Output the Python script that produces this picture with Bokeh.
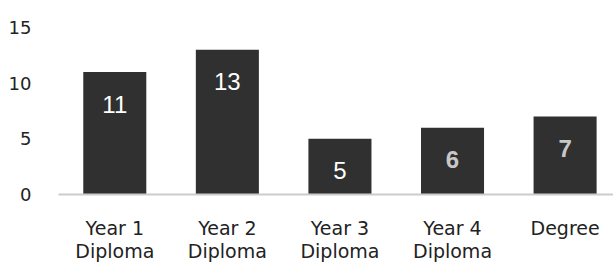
from bokeh.plotting import figure
from bokeh.models import Range1d, FixedTicker, LinearAxis, ColumnDataSource
from bokeh.embed import file_html
from bokeh.resources import INLINE
from bokeh.core.properties import value

categories_line1 = ["Year 1", "Year 2", "Year 3", "Year 4", "Degree"]
categories_line2 = ["Diploma", "Diploma", "Diploma", "Diploma", ""]
counts = [11, 13, 5, 6, 7]
y_ticks = [0, 5, 10, 15]

label_colors = ["#ffffff", "#ffffff", "#ffffff", "#c8c8c8", "#c8c8c8"]
label_styles = ["normal", "normal", "normal", "bold", "bold"]

xs = list(range(len(counts)))
src = ColumnDataSource(dict(x=xs, top=counts, lab=[str(c) for c in counts],
                            col=label_colors, sty=label_styles))

p = figure(width=613, height=264, output_backend="svg", toolbar_location=None,
           x_range=Range1d(-0.5, 4.43), y_range=Range1d(0, 15.63),
           min_border_left=58, min_border_right=0, min_border_top=20, min_border_bottom=70,
           x_axis_location=None)
p.outline_line_color = None
p.xgrid.visible = False
p.ygrid.visible = False
p.background_fill_color = "white"

p.vbar(x="x", top="top", bottom=0, width=0.56, source=src, fill_color="#303030", line_color=None)
p.text(x="x", y="top", text="lab", source=src, text_color="col", text_font_style="sty",
       text_font=value("Liberation Sans"), text_font_size="24px",
       text_align="center", text_baseline="middle", y_offset=32)

yax = p.yaxis[0]
yax.ticker = FixedTicker(ticks=y_ticks)
yax.axis_line_color = None
yax.major_tick_line_color = None
yax.minor_tick_line_color = None
yax.major_label_text_font = "DejaVu Sans"
yax.major_label_text_font_size = "18px"
yax.major_label_text_color = "#222222"
yax.major_label_standoff = 21

ax1 = LinearAxis(ticker=FixedTicker(ticks=xs),
                 major_label_overrides={i: s for i, s in zip(xs, categories_line1)})
ax1.axis_line_color = "#cccccc"
ax1.axis_line_width = 2
ax1.major_tick_line_color = None
ax1.minor_tick_line_color = None
ax1.major_tick_out = 0
ax1.major_tick_in = 0
ax1.major_label_text_font = "DejaVu Sans"
ax1.major_label_text_font_size = "19px"
ax1.major_label_text_color = "#222222"
ax1.major_label_standoff = 22

ax2 = LinearAxis(ticker=FixedTicker(ticks=xs),
                 major_label_overrides={i: s for i, s in zip(xs, categories_line2)})
ax2.axis_line_color = None
ax2.major_tick_line_color = None
ax2.minor_tick_line_color = None
ax2.major_tick_out = 0
ax2.major_tick_in = 0
ax2.major_label_text_font = "DejaVu Sans"
ax2.major_label_text_font_size = "19px"
ax2.major_label_text_color = "#222222"
ax2.major_label_standoff = -2

p.add_layout(ax1, "below")
p.add_layout(ax2, "below")

open("out.html", "w").write(file_html(p, INLINE))
